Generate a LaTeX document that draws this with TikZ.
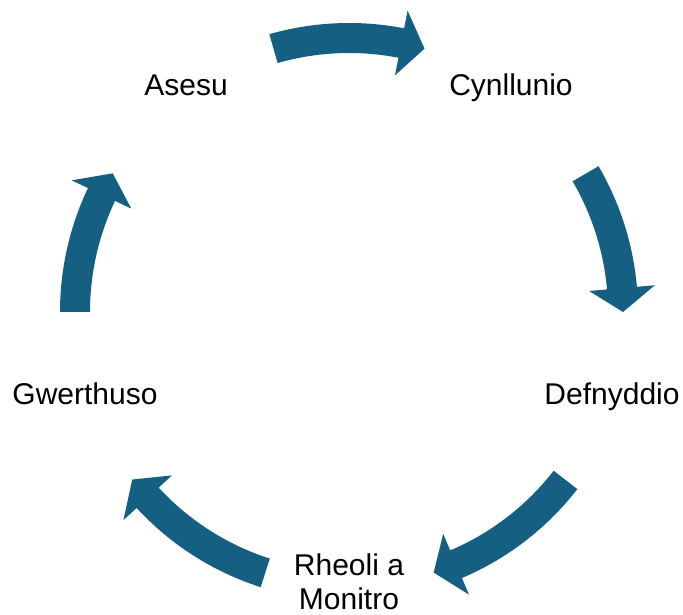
\documentclass[tikz,border=0pt]{standalone}
\usepackage{fontspec}
\setmainfont{Liberation Sans}
\usetikzlibrary{positioning}
\definecolor{cyclebl}{HTML}{156082}

\begin{document}
\begin{tikzpicture}[x=1pt, y=1pt,
  lbl/.style = {anchor=base, inner sep=0pt, align=center,
                font=\fontsize{30}{34}\selectfont}]
\useasboundingbox (0,0) rectangle (683,614);
\coordinate (hub) at (349,302);

\node[lbl] (asesu) at (186,518) {Asesu};
\node[lbl] (cynllunio) at (511,518) {Cynllunio};
\node[lbl] (defnyddio) at (612,210) {Defnyddio};
\node[lbl] (rheoli) at (349,5) {Rheoli a\\Monitro};
\node[lbl] (gwerthuso) at (85,210) {Gwerthuso};

% curved block arrows round the hub
\foreach \s/\t in {106/74, 30.3/0, -37.8/-72, -107.8/-142.3, 180/149.6}
{
  \pgfmathsetmacro{\b}{\t+5}
  \fill[cyclebl, shift={(hub)}] (\s:289) arc[start angle=\s, end angle=\b, radius=289]
     -- (\b:307) -- (\t:274) -- (\b:241) -- (\b:259)
     arc[start angle=\b, end angle=\s, radius=259] -- cycle;
}
\end{tikzpicture}
\end{document}
